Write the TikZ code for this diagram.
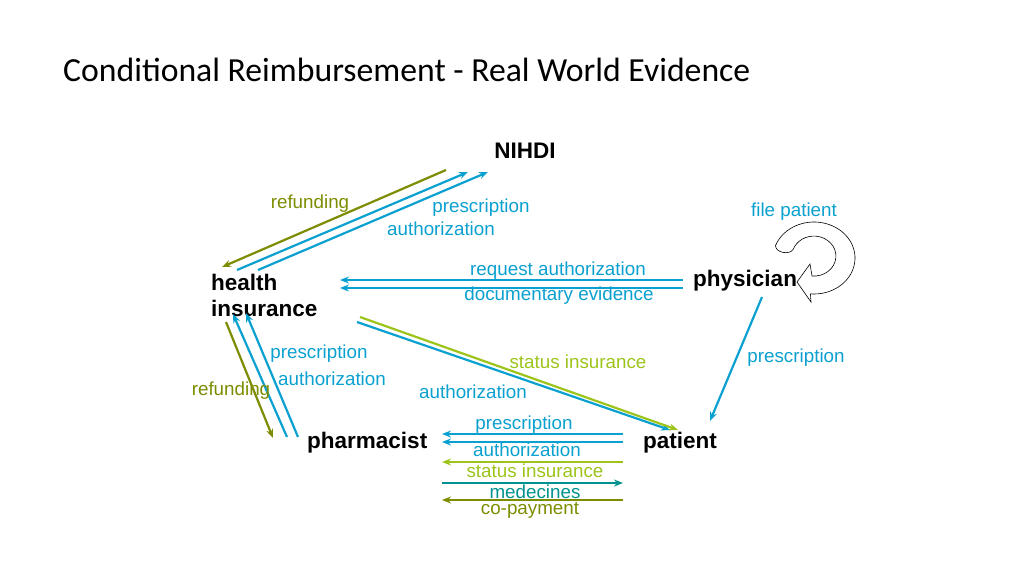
\documentclass[tikz,border=0pt]{standalone}
\usepackage{fontspec}
\usetikzlibrary{arrows.meta}
\setmainfont{Liberation Sans}
\newfontfamily\titlefont{Carlito}
\begin{document}
\begin{tikzpicture}[x=1pt,y=-1pt,
  lab/.style={font=\fontsize{18.8}{20}\selectfont, inner sep=0pt},
  actor/.style={font=\bfseries\fontsize{22.5}{26}\selectfont, inner sep=0pt, align=left},
  arr/.style={-{Stealth[length=9pt,width=7pt]}, line width=2.2pt},
  cb/.style={color=cblue}, co/.style={color=colive}, cl/.style={color=clime}, ct/.style={color=cteal}]
\definecolor{cblue}{RGB}{10,160,208}
\definecolor{colive}{RGB}{125,140,0}
\definecolor{clime}{RGB}{156,196,26}
\definecolor{cteal}{RGB}{0,146,143}
\useasboundingbox (0,0) rectangle (1024,576);
\node[anchor=west, font=\titlefont\fontsize{33.7}{38}\selectfont, inner sep=0pt] (title) at (63,70) {Conditional Reimbursement - Real World Evidence};
\node[actor] (nihdi) at (525,151) {NIHDI};
\node[actor, anchor=west] (hi) at (211,295) {health\\insurance};
\node[actor, anchor=west] (phys) at (693,281) {physician};
\node[actor, anchor=west] (pharm) at (307,443) {pharmacist};
\node[actor, anchor=west] (pat) at (643,443) {patient};
\coordinate (a1) at (446,170); \coordinate (a2) at (222,267);
\coordinate (b1) at (237,270); \coordinate (b2) at (468,172);
\coordinate (c1) at (258,270); \coordinate (c2) at (488,172);
\draw[arr,co] (a1) -- (a2);
\draw[arr,cb] (b1) -- (b2);
\draw[arr,cb] (c1) -- (c2);
\node[lab,co] (l1) at (310,204) {refunding};
\node[lab,cb] (l2) at (481,208) {prescription};
\node[lab,cb] (l3) at (441,229) {authorization};
\coordinate (d1) at (683,280); \coordinate (d2) at (340,280);
\coordinate (e1) at (683,288); \coordinate (e2) at (340,288);
\draw[arr,cb] (d1) -- (d2);
\draw[arr,cb] (e1) -- (e2);
\node[lab,cb] (l4) at (558,271) {request authorization};
\node[lab,cb] (l5) at (559,296) {documentary evidence};
\node[lab,cb] (l6) at (794,212) {file patient};
% circular arrow
\draw[line width=0.6pt, fill=white] (814,258) ++(200:41 and 36) arc[start angle=200,end angle=455,x radius=41,y radius=36]
 -- (811,302) -- (797,282) -- (810,264) -- (812,276)
 arc[start angle=455,end angle=200,x radius=22,y radius=20] to[out=-120,in=-90] cycle;
\coordinate (f1) at (357,322); \coordinate (f2) at (670,430);
\coordinate (g1) at (360,317); \coordinate (g2) at (678,430);
\draw[arr,cb] (f1) -- (f2);
\draw[arr,cl] (g1) -- (g2);
\node[lab,cl] (l7) at (578,362) {status insurance};
\node[lab,cb] (l8) at (473,392) {authorization};
\coordinate (h1) at (762,297); \coordinate (h2) at (710,421);
\draw[arr,cb] (h1) -- (h2);
\node[lab,cb] (l9) at (796,358) {prescription};
\coordinate (i1) at (226,322); \coordinate (i2) at (273,438);
\coordinate (j1) at (287,437); \coordinate (j2) at (233,314);
\coordinate (k1) at (298,437); \coordinate (k2) at (246,313);
\draw[arr,co] (i1) -- (i2);
\draw[arr,cb] (j1) -- (j2);
\draw[arr,cb] (k1) -- (k2);
\node[lab,cb] (l10) at (319,354) {prescription};
\node[lab,cb] (l11) at (332,379) {authorization};
\node[lab,co] (l12) at (231,391) {refunding};
\coordinate (m1) at (623,434); \coordinate (m2) at (442,434);
\coordinate (n1) at (623,442); \coordinate (n2) at (442,442);
\coordinate (o1) at (623,462); \coordinate (o2) at (442,462);
\coordinate (p1) at (442,483); \coordinate (p2) at (623,483);
\coordinate (q1) at (623,500); \coordinate (q2) at (442,500);
\draw[arr,cb] (m1) -- (m2);
\draw[arr,cb] (n1) -- (n2);
\draw[arr,cl] (o1) -- (o2);
\draw[arr,ct] (p1) -- (p2);
\draw[arr,co] (q1) -- (q2);
\node[lab,cb] (l13) at (524,425) {prescription};
\node[lab,cb] (l14) at (527,450) {authorization};
\node[lab,cl] (l15) at (535,471) {status insurance};
\node[lab,ct] (l16) at (535,492) {medecines};
\node[lab,co] (l17) at (530,510) {co-payment};
\end{tikzpicture}
\end{document}
